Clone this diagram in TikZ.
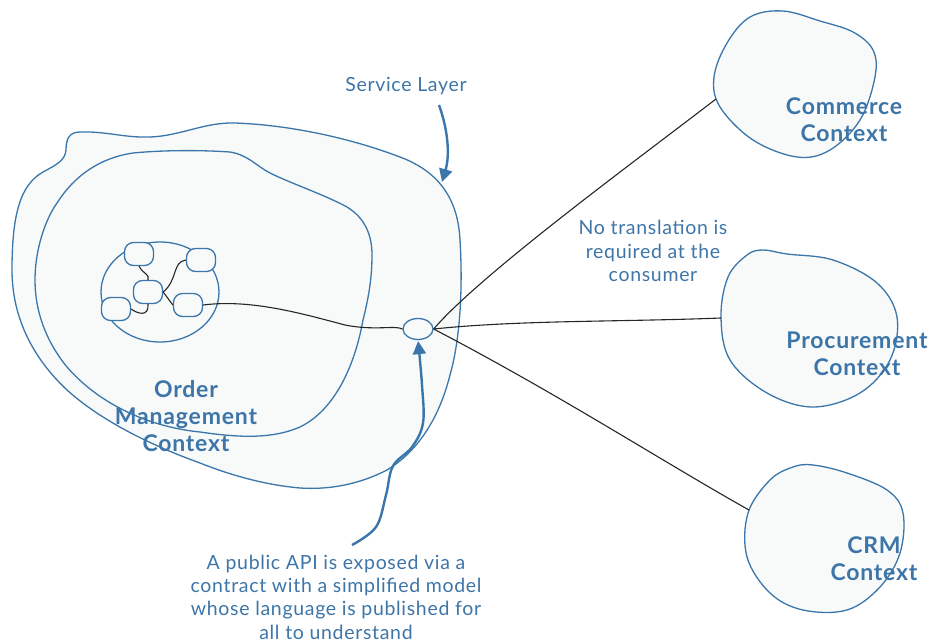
\documentclass[tikz,border=0pt]{standalone}
\usepackage{fontspec}
\setmainfont{Lato}[LetterSpace=3.5]
\usetikzlibrary{arrows.meta,shapes.geometric}
\definecolor{ddblue}{RGB}{58,118,170}
\definecolor{ddtext}{RGB}{61,117,168}
\definecolor{ddfill}{RGB}{248,250,250}
\tikzset{
  blob/.style={draw=ddblue, fill=ddfill, line width=1.3pt},
  minibox/.style={draw=ddblue, fill=ddfill, line width=1.3pt, rounded corners=9pt, minimum width=29pt, minimum height=23pt, inner sep=0pt},
  wire/.style={draw=black!85, line width=1.1pt},
  callout/.style={draw=ddblue, line width=2.4pt, -{Triangle[length=13pt,width=13pt]}},
  lbl/.style={text=ddtext, align=center, font=\fontsize{19.5}{23.3}\selectfont},
  ctx/.style={text=ddtext, align=center, font=\fontsize{23}{27}\selectfont\bfseries},
}
\begin{document}
\begin{tikzpicture}[x=1pt,y=-1pt]
\useasboundingbox (0,0) rectangle (928,644);
% outer service layer blob
\path[blob] (80,132) .. controls (105,131) and (125,138) .. (150,137)
 .. controls (180,136) and (205,122) .. (235,123)
 .. controls (290,125) and (350,138) .. (400,157)
 .. controls (440,172) and (458,200) .. (460,240)
 .. controls (463,290) and (460,340) .. (450,375)
 .. controls (440,415) and (420,450) .. (387,470)
 .. controls (360,484) and (330,490) .. (300,488)
 .. controls (265,485) and (230,475) .. (200,463)
 .. controls (150,445) and (100,420) .. (67,390)
 .. controls (35,360) and (12,320) .. (12,270)
 .. controls (12,215) and (20,185) .. (43,172)
 .. controls (58,164) and (65,160) .. (66,150)
 .. controls (66,138) and (70,132) .. (80,132) -- cycle;
% inner blob
\path[blob] (133,153) .. controls (165,150) and (200,150) .. (230,152)
 .. controls (248,155) and (255,165) .. (270,173)
 .. controls (290,183) and (325,195) .. (347,207)
 .. controls (365,218) and (372,235) .. (372,255)
 .. controls (372,280) and (368,300) .. (363,320)
 .. controls (355,365) and (335,410) .. (300,427)
 .. controls (270,440) and (235,437) .. (200,432)
 .. controls (150,427) and (100,405) .. (67,367)
 .. controls (45,340) and (35,310) .. (35,280)
 .. controls (35,250) and (45,220) .. (57,203)
 .. controls (75,175) and (100,158) .. (133,153) -- cycle;
% small circle
\draw[blob] (160,292) ellipse [x radius=59, y radius=50];
% right blobs
\path[blob] plot[smooth cycle, tension=0.6] coordinates {
 (783,11) (820,21) (853,32) (873,50) (875,77) (860,120) (830,150) (797,157) (753,140) (720,107) (714,77) (727,43) (750,17)};
\path[blob] plot[smooth cycle, tension=0.6] coordinates {
 (747,255) (763,250) (787,254) (833,260) (877,283) (897,317) (890,360) (860,393) (813,407) (767,393) (730,360) (721,317) (728,277)};
\path[blob] plot[smooth cycle, tension=0.6] coordinates {
 (793,467) (813,465) (847,473) (887,490) (903,513) (900,553) (880,587) (847,610) (803,610) (770,593) (747,557) (748,513) (770,480)};
% coordinates on blobs
\coordinate (comIn) at (716,99);
\coordinate (proIn) at (721,318);
\coordinate (crmIn) at (749,510);
\coordinate (svcTip) at (442,182);
\coordinate (svcStart) at (439,105);
\coordinate (apiStart) at (352,545);
% mini nodes
\node[minibox] (A) at (139,254) {};
\node[minibox] (B) at (201,260) {};
\node[minibox] (C) at (148,292) {};
\node[minibox] (D) at (116,309) {};
\node[minibox] (E) at (188,305) {};
% api
\node[draw=ddblue, fill=ddfill, line width=1.3pt, ellipse, minimum width=30pt, minimum height=21pt, inner sep=0pt] (api) at (418,329) {};
% wires
\draw[wire] (A.south) .. controls (143,274) and (150,274) .. (C.north);
\draw[wire] (C.south) .. controls (149,317) and (138,314) .. (D.east);
\draw[wire] (C.east) .. controls (178,280) and (172,262) .. (B.west);
\draw[wire] (C.east) -- (E.west);
\draw[wire] (E.east) .. controls (250,299) and (300,313) .. (345,325) .. controls (375,331) and (395,325) .. (api.west);
\draw[wire] (api.east) .. controls (480,275) and (630,165) .. (comIn);
\draw[wire] (api.east) .. controls (520,320) and (620,322) .. (proIn);
\draw[wire] (api.east) .. controls (560,395) and (660,460) .. (crmIn);
% callout arrows
\draw[callout] (svcStart) .. controls (448,130) and (450,155) .. (svcTip);
\draw[callout, shorten >=1pt] plot[smooth, tension=0.6] coordinates {(apiStart) (376,527) (386,495) (393,466) (412,447) (423,423) (422,385) (api.south)};
% labels
\node[lbl] (svc) at (406,86) {Service Layer};
\node[lbl] (notr) at (653,251) {No translation is\\required at the\\consumer};
\node[lbl] (pub) at (336,597) {A public API is exposed via a\\contract with a simplified model\\whose language is published for\\all to understand};
\node[ctx] (omc) at (186,416) {Order\\Management\\Context};
\node[ctx] (cc) at (844,120) {Commerce\\Context};
\node[ctx] (pc) at (857,354) {Procurement\\Context};
\node[ctx] (crm) at (874,559) {CRM\\Context};
\end{tikzpicture}
\end{document}
